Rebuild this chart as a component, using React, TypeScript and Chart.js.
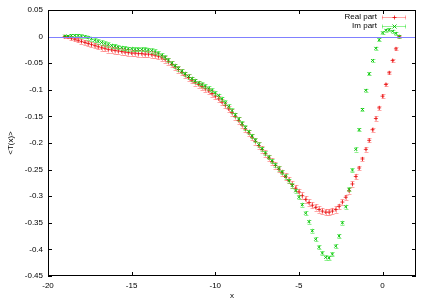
import { useEffect, useRef } from 'react';
import { Chart, registerables } from 'chart.js';
Chart.register(...registerables);

const xValues = [
  -19.0, -18.8, -18.6, -18.4, -18.2, -18.0, -17.8, -17.6, -17.4, -17.2,
  -17.0, -16.8, -16.6, -16.4, -16.2, -16.0, -15.8, -15.6, -15.4, -15.2,
  -15.0, -14.8, -14.6, -14.4, -14.2, -14.0, -13.8, -13.6, -13.4, -13.2,
  -13.0, -12.8, -12.6, -12.4, -12.2, -12.0, -11.8, -11.6, -11.4, -11.2,
  -11.0, -10.8, -10.6, -10.4, -10.2, -10.0, -9.8, -9.6, -9.4, -9.2,
  -9.0, -8.8, -8.6, -8.4, -8.2, -8.0, -7.8, -7.6, -7.4, -7.2,
  -7.0, -6.8, -6.6, -6.4, -6.2, -6.0, -5.8, -5.6, -5.4, -5.2,
  -5.0, -4.8, -4.6, -4.4, -4.2, -4.0, -3.8, -3.6, -3.4, -3.2,
  -3.0, -2.8, -2.6, -2.4, -2.2, -2.0, -1.8, -1.6, -1.4, -1.2,
  -1.0, -0.8, -0.6, -0.4, -0.2, 0.0, 0.2, 0.4, 0.6, 0.8,
  1.0,
];

const realPart = [
  0.000, -0.001, -0.003, -0.005, -0.007, -0.009, -0.011, -0.013, -0.015, -0.017,
  -0.019, -0.021, -0.022, -0.024, -0.025, -0.026, -0.027, -0.028, -0.029, -0.030,
  -0.031, -0.031, -0.032, -0.032, -0.033, -0.033, -0.034, -0.035, -0.037, -0.040,
  -0.043, -0.047, -0.052, -0.057, -0.062, -0.067, -0.072, -0.077, -0.082, -0.086,
  -0.090, -0.094, -0.098, -0.102, -0.107, -0.112, -0.117, -0.123, -0.129, -0.136,
  -0.143, -0.150, -0.158, -0.166, -0.174, -0.181, -0.189, -0.197, -0.205, -0.212,
  -0.220, -0.228, -0.235, -0.242, -0.249, -0.256, -0.263, -0.270, -0.278, -0.285,
  -0.292, -0.299, -0.306, -0.312, -0.317, -0.321, -0.325, -0.328, -0.330, -0.330,
  -0.328, -0.325, -0.319, -0.311, -0.302, -0.290, -0.277, -0.263, -0.247, -0.230,
  -0.212, -0.195, -0.175, -0.154, -0.134, -0.112, -0.090, -0.068, -0.045, -0.023,
  0.000,
];

const realErr = [
  0.002, 0.002, 0.003, 0.003, 0.004, 0.004, 0.004, 0.005, 0.005, 0.005,
  0.005, 0.006, 0.006, 0.006, 0.006, 0.006, 0.006, 0.006, 0.006, 0.006,
  0.006, 0.006, 0.006, 0.006, 0.006, 0.006, 0.006, 0.006, 0.006, 0.006,
  0.006, 0.006, 0.006, 0.006, 0.006, 0.006, 0.006, 0.006, 0.006, 0.006,
  0.006, 0.006, 0.006, 0.006, 0.006, 0.006, 0.006, 0.006, 0.006, 0.006,
  0.006, 0.006, 0.006, 0.006, 0.006, 0.006, 0.006, 0.006, 0.006, 0.006,
  0.006, 0.006, 0.006, 0.006, 0.006, 0.006, 0.006, 0.006, 0.006, 0.006,
  0.006, 0.006, 0.006, 0.006, 0.006, 0.006, 0.006, 0.006, 0.006, 0.006,
  0.006, 0.006, 0.005, 0.005, 0.005, 0.005, 0.005, 0.005, 0.004, 0.004,
  0.004, 0.004, 0.004, 0.004, 0.004, 0.004, 0.003, 0.003, 0.003, 0.003,
  0.003,
];

const imPart = [
  0.001, 0.001, 0.002, 0.002, 0.002, 0.001, 0.000, -0.002, -0.004, -0.007,
  -0.009, -0.011, -0.013, -0.015, -0.017, -0.018, -0.020, -0.021, -0.022, -0.023,
  -0.023, -0.024, -0.024, -0.024, -0.024, -0.025, -0.026, -0.028, -0.031, -0.035,
  -0.039, -0.044, -0.050, -0.055, -0.060, -0.065, -0.070, -0.075, -0.079, -0.083,
  -0.087, -0.090, -0.093, -0.097, -0.101, -0.106, -0.111, -0.117, -0.124, -0.131,
  -0.139, -0.147, -0.155, -0.163, -0.171, -0.179, -0.187, -0.195, -0.203, -0.211,
  -0.219, -0.227, -0.234, -0.241, -0.248, -0.255, -0.263, -0.271, -0.280, -0.290,
  -0.302, -0.316, -0.332, -0.348, -0.365, -0.381, -0.396, -0.407, -0.415, -0.416,
  -0.409, -0.394, -0.375, -0.350, -0.320, -0.287, -0.251, -0.212, -0.175, -0.137,
  -0.101, -0.070, -0.045, -0.022, -0.006, 0.007, 0.012, 0.013, 0.010, 0.006,
  0.000,
];

const imErr = [
  0.002, 0.002, 0.002, 0.003, 0.003, 0.003, 0.003, 0.004, 0.004, 0.004,
  0.004, 0.004, 0.004, 0.004, 0.004, 0.004, 0.004, 0.004, 0.004, 0.004,
  0.004, 0.004, 0.004, 0.004, 0.004, 0.004, 0.004, 0.004, 0.004, 0.004,
  0.004, 0.004, 0.004, 0.004, 0.004, 0.004, 0.004, 0.004, 0.004, 0.004,
  0.004, 0.004, 0.004, 0.004, 0.004, 0.004, 0.004, 0.004, 0.004, 0.004,
  0.004, 0.004, 0.004, 0.004, 0.004, 0.004, 0.004, 0.004, 0.004, 0.004,
  0.004, 0.004, 0.004, 0.004, 0.004, 0.004, 0.004, 0.004, 0.004, 0.004,
  0.004, 0.004, 0.004, 0.004, 0.004, 0.004, 0.004, 0.004, 0.004, 0.004,
  0.004, 0.004, 0.004, 0.004, 0.004, 0.004, 0.004, 0.004, 0.003, 0.003,
  0.003, 0.003, 0.003, 0.003, 0.003, 0.003, 0.003, 0.003, 0.003, 0.003,
  0.003,
];

const seriesLabels = ['Real part', 'Im part'];
const xTitle = 'x';
const yTitle = '<T(x)>';

const FONT = '"Liberation Sans", Arial, sans-serif';
const ZERO_LINE = 'rgb(128,128,255)';
const REAL_BAR = 'rgba(255,60,60,0.45)';
const REAL_MARK = 'rgba(230,0,0,0.75)';
const IM_BAR = 'rgba(40,230,40,0.5)';
const IM_MARK = 'rgba(0,190,0,0.9)';

const errs = [realErr, imErr];
const barColors = [REAL_BAR, IM_BAR];
const markColors = [REAL_MARK, IM_MARK];
const markStyles = ['cross', 'crossRot'];

function drawBar(ctx: CanvasRenderingContext2D, x: number, y1: number, y2: number, cap: number) {
  const xx = Math.round(x) + 0.5;
  ctx.beginPath();
  ctx.moveTo(xx, y1);
  ctx.lineTo(xx, y2);
  ctx.moveTo(xx - cap, Math.round(y1) + 0.5);
  ctx.lineTo(xx + cap, Math.round(y1) + 0.5);
  ctx.moveTo(xx - cap, Math.round(y2) + 0.5);
  ctx.lineTo(xx + cap, Math.round(y2) + 0.5);
  ctx.stroke();
}

const gnuplotPlugin = {
  id: 'gnuplotStyle',
  beforeDatasetDraw(chart: any, args: any) {
    const { ctx, scales } = chart;
    const i = args.index;
    const err = errs[i];
    const data = chart.data.datasets[i].data;
    ctx.save();
    ctx.strokeStyle = barColors[i];
    ctx.lineWidth = 1;
    data.forEach((p: any, k: number) => {
      const px = scales.x.getPixelForValue(p.x);
      const yTop = scales.y.getPixelForValue(p.y + err[k]);
      const yBot = scales.y.getPixelForValue(p.y - err[k]);
      drawBar(ctx, px, yTop, yBot, 2);
    });
    ctx.restore();
  },
  afterDraw(chart: any) {
    const { ctx, chartArea, scales } = chart;
    const { left, right, top, bottom } = chartArea;
    ctx.save();
    // zero axis line: a filled 1px strip
    const y0 = Math.round(scales.y.getPixelForValue(0));
    ctx.fillStyle = ZERO_LINE;
    ctx.fillRect(left + 1, y0, right - left - 2, 1);

    ctx.strokeStyle = '#000';
    ctx.lineWidth = 1;
    ctx.strokeRect(left + 0.5, top + 0.5, right - left - 1, bottom - top - 1);
    ctx.beginPath();
    const tl = 4;
    scales.y.ticks.forEach((t: any) => {
      if (Math.abs(t.value) < 1e-9) return;
      const py = Math.round(scales.y.getPixelForValue(t.value)) + 0.5;
      ctx.moveTo(left, py);
      ctx.lineTo(left + tl, py);
      ctx.moveTo(right, py);
      ctx.lineTo(right - tl, py);
    });
    scales.x.ticks.forEach((t: any) => {
      const px = Math.round(scales.x.getPixelForValue(t.value)) + 0.5;
      ctx.moveTo(px, bottom);
      ctx.lineTo(px, bottom - tl);
      ctx.moveTo(px, top);
      ctx.lineTo(px, top + tl);
    });
    ctx.stroke();

    // legend
    ctx.font = `8px ${FONT}`;
    ctx.textAlign = 'right';
    ctx.textBaseline = 'middle';
    const rows = [17, 26];
    const textRight = right - 39;
    const sx1 = right - 34;
    const sx2 = right - 10;
    seriesLabels.forEach((label, i) => {
      const ly = rows[i] + 0.5;
      ctx.fillStyle = '#000';
      ctx.fillText(label, textRight, rows[i]);
      ctx.strokeStyle = barColors[i];
      ctx.beginPath();
      ctx.moveTo(sx1, ly);
      ctx.lineTo(sx2, ly);
      ctx.moveTo(sx1 + 0.5, ly - 2);
      ctx.lineTo(sx1 + 0.5, ly + 2);
      ctx.moveTo(sx2 - 0.5, ly - 2);
      ctx.lineTo(sx2 - 0.5, ly + 2);
      ctx.stroke();
      ctx.strokeStyle = markColors[i];
      const cx = Math.round((sx1 + sx2) / 2) + 0.5;
      ctx.beginPath();
      if (i === 0) {
        ctx.moveTo(cx - 2, ly);
        ctx.lineTo(cx + 2, ly);
        ctx.moveTo(cx, ly - 2);
        ctx.lineTo(cx, ly + 2);
      } else {
        ctx.moveTo(cx - 2, ly - 2);
        ctx.lineTo(cx + 2, ly + 2);
        ctx.moveTo(cx - 2, ly + 2);
        ctx.lineTo(cx + 2, ly - 2);
      }
      ctx.stroke();
    });
    ctx.restore();
  },
};

function fmt(v: number) {
  return String(Number(v.toFixed(2)));
}

export default function App() {
  const ref = useRef<HTMLCanvasElement | null>(null);
  useEffect(() => {
    if (!ref.current) return;
    const series = [realPart, imPart];
    const chart = new Chart(ref.current, {
      type: 'scatter',
      data: {
        datasets: series.map((vals, i) => ({
          label: seriesLabels[i],
          data: xValues.map((x, k) => ({ x, y: vals[k] })),
          pointStyle: markStyles[i] as any,
          pointRadius: 2,
          pointBorderWidth: 1,
          borderColor: markColors[i],
          backgroundColor: markColors[i],
          showLine: false,
          order: i === 0 ? 2 : 1,
        })),
      },
      options: {
        animation: false,
        responsive: false,
        events: [],
        layout: { padding: { top: 10, right: 14, left: 0, bottom: 0 } },
        plugins: {
          legend: { display: false },
          tooltip: { enabled: false },
        },
        scales: {
          x: {
            type: 'linear',
            min: -20,
            max: 2,
            grid: { display: false, drawTicks: false },
            border: { display: false },
            ticks: {
              stepSize: 5,
              includeBounds: false,
              padding: 5,
              color: '#000',
              font: { family: FONT, size: 8 },
              maxRotation: 0,
              callback: (v: any) => fmt(Number(v)),
            },
            title: {
              display: true,
              text: xTitle,
              color: '#000',
              font: { family: FONT, size: 8 },
              padding: { top: 0, bottom: 0 },
            },
            afterFit: (s: any) => { s.height = 25; },
          },
          y: {
            type: 'linear',
            min: -0.45,
            max: 0.05,
            grid: { display: false, drawTicks: false },
            border: { display: false },
            ticks: {
              stepSize: 0.05,
              padding: 5,
              color: '#000',
              font: { family: FONT, size: 8 },
              callback: (v: any) => fmt(Number(v)),
            },
            title: {
              display: true,
              text: yTitle,
              color: '#000',
              font: { family: FONT, size: 8 },
              padding: { top: 6, bottom: 0 },
            },
            afterFit: (s: any) => { s.width = 48; },
          },
        },
      },
      plugins: [gnuplotPlugin],
    });
    return () => chart.destroy();
  }, []);
  return (
    <div style={{ position: 'fixed', left: 0, top: 0, width: 430, height: 301, background: '#fff' }}>
      <canvas ref={ref} width={430} height={301} style={{ display: 'block' }} />
    </div>
  );
}
